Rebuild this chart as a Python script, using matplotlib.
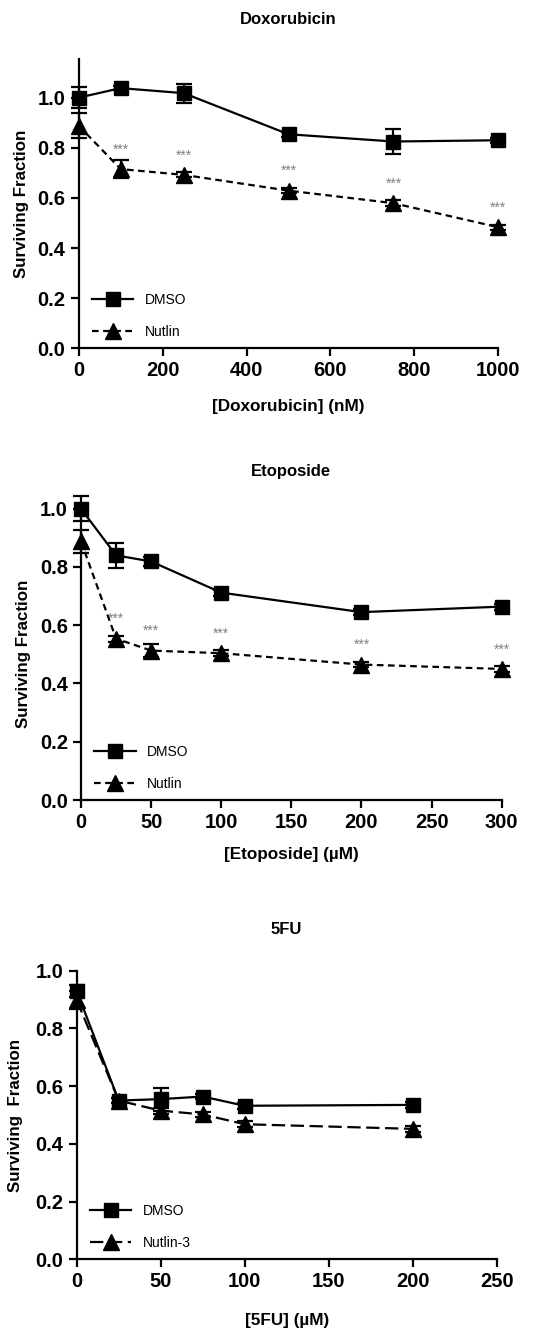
import matplotlib.pyplot as plt
from matplotlib.lines import Line2D

plt.rcParams['font.family'] = ['Liberation Sans', 'DejaVu Sans']

# Doxorubicin
dox_x = [0, 100, 250, 500, 750, 1000]
dox_dmso = [1.00, 1.038, 1.018, 0.854, 0.825, 0.830]
dox_dmso_err = [0.042, 0.008, 0.038, 0.010, 0.048, 0.010]
dox_nut = [0.888, 0.715, 0.692, 0.629, 0.579, 0.483]
dox_nut_err = [0.05, 0.035, 0.010, 0.010, 0.012, 0.010]

# Etoposide
eto_x = [0, 25, 50, 100, 200, 300]
eto_dmso = [1.00, 0.840, 0.819, 0.712, 0.645, 0.664]
eto_dmso_err = [0.043, 0.042, 0.015, 0.010, 0.010, 0.010]
eto_nut = [0.888, 0.554, 0.513, 0.504, 0.465, 0.450]
eto_nut_err = [0.04, 0.010, 0.022, 0.010, 0.010, 0.010]

# 5FU
fu_x = [0, 25, 50, 75, 100, 200]
fu_dmso = [0.930, 0.550, 0.555, 0.564, 0.532, 0.535]
fu_dmso_err = [0.02, 0.010, 0.040, 0.010, 0.010, 0.010]
fu_nut = [0.898, 0.550, 0.515, 0.502, 0.468, 0.452]
fu_nut_err = [0.03, 0.010, 0.010, 0.010, 0.010, 0.010]

W, H = 539, 1332
fig = plt.figure(figsize=(W / 100, H / 100), dpi=100)


def box(left, right, top, bottom):
    return [left / W, 1 - bottom / H, (right - left) / W, (bottom - top) / H]


def panel(rect, x, d, de, n, ne, title, xlabel, ylabel, xlim, xticks, ylim, nlabel, nstyle,
          stars, title_y, xlabel_y, ypad):
    ax = fig.add_axes(box(*rect))
    ax.errorbar(x, d, yerr=de, color='black', lw=1.6, marker='s', ms=10,
                capsize=6, capthick=1.6, elinewidth=1.6, clip_on=False, zorder=3)
    ax.errorbar(x, n, yerr=ne, color='black', lw=1.6, marker='^', ms=12,
                capsize=6, capthick=1.6, elinewidth=1.6, clip_on=False,
                zorder=3, dashes=nstyle)
    if stars:
        for xi, yi in zip(x[1:], n[1:]):
            ax.annotate('***', (xi, yi), xytext=(0, 14), textcoords='offset points',
                        ha='center', va='center', fontsize=10, color='#808080')
    ax.set_xlim(*xlim)
    ax.set_ylim(*ylim)
    ax.set_xticks(xticks)
    ax.set_yticks([0, 0.2, 0.4, 0.6, 0.8, 1.0])
    ax.set_yticklabels(['0.0', '0.2', '0.4', '0.6', '0.8', '1.0'])
    for s in ['top', 'right']:
        ax.spines[s].set_visible(False)
    for s in ['left', 'bottom']:
        ax.spines[s].set_linewidth(1.6)
    ax.tick_params(width=1.6, length=6, labelsize=14.5)
    for lab in ax.get_xticklabels() + ax.get_yticklabels():
        lab.set_fontweight('bold')
    ax.set_ylabel(ylabel, fontsize=12.2, fontweight='bold', labelpad=ypad)
    fig.text((rect[0] + rect[1]) / 2 / W, 1 - title_y / H, title, ha='center', va='center',
             fontsize=12, fontweight='bold')
    fig.text((rect[0] + rect[1]) / 2 / W, 1 - xlabel_y / H, xlabel, ha='center', va='center',
             fontsize=12.3, fontweight='bold')
    handles = [Line2D([], [], color='black', lw=1.6, marker='s', ms=10),
               Line2D([], [], color='black', lw=1.6, marker='^', ms=12, dashes=nstyle)]
    ax.legend(handles, ['DMSO', nlabel], loc='lower left', frameon=False, fontsize=10,
              handlelength=3.0, labelspacing=1.3, borderaxespad=0,
              bbox_to_anchor=(0.018, 0.012))
    return ax


panel((78.7, 498.3, 59.3, 348.3), dox_x, dox_dmso, dox_dmso_err, dox_nut, dox_nut_err,
      'Doxorubicin', '[Doxorubicin] (nM)', 'Surviving Fraction', (0, 1000),
      [0, 200, 400, 600, 800, 1000], (0, 1.153), 'Nutlin', (3, 2), True, 19, 407, 6)
panel((81, 501.7, 507, 800), eto_x, eto_dmso, eto_dmso_err, eto_nut, eto_nut_err,
      'Etoposide', '[Etoposide] (\u00b5M)', 'Surviving Fraction', (0, 300),
      [0, 50, 100, 150, 200, 250, 300], (0, 1.006), 'Nutlin', (3, 2), True, 471, 855, 6)
panel((76.7, 496.7, 970.7, 1259.3), fu_x, fu_dmso, fu_dmso_err, fu_nut, fu_nut_err,
      '5FU', '[5FU] (\u00b5M)', 'Surviving  Fraction', (0, 250),
      [0, 50, 100, 150, 200, 250], (0, 1.0), 'Nutlin-3', (6, 2.5), False, 930, 1320, 9)

fig.savefig('out.png', dpi=100)
